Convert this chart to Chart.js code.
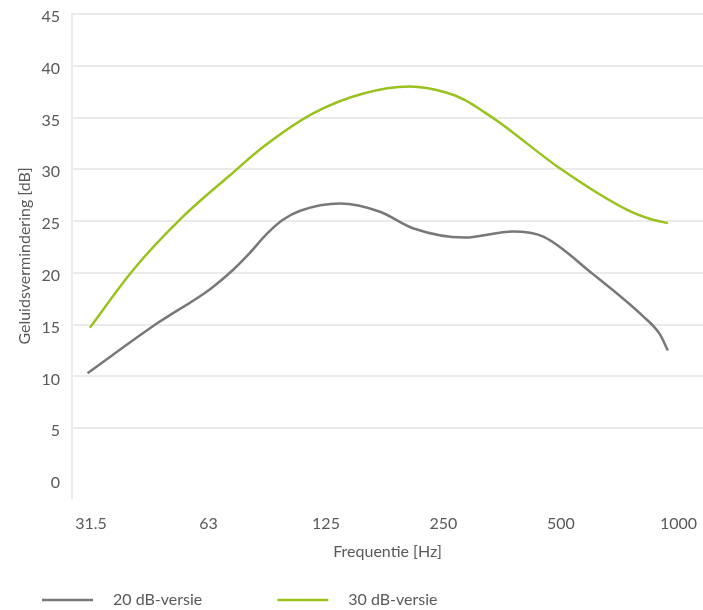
<!DOCTYPE html>
<html>
<head>
<meta charset="utf-8">
<script src="https://cdn.jsdelivr.net/npm/chart.js@4.4.1/dist/chart.umd.min.js"></script>
<style>
    body { margin: 0; background: #fff; }
    #wrap { width: 703px; height: 610px; }
</style>
</head>
<body>
<div id="wrap"><canvas id="chartGeluid"></canvas></div>
<script>
// frequentiebanden (tick labels op de x-as)
const frequenties = ['31.5', '63', '125', '250', '500', '1000'];
const yTicks = [0, 5, 10, 15, 20, 25, 30, 35, 40, 45];

// 20 dB-versie: positie in octaven vanaf 31.5 Hz, waarde in dB
const octaaf20 = [-0.03, 0.56, 1.01, 1.21, 1.35, 1.50, 1.63, 1.78, 2.12, 2.46, 2.74, 3.18, 3.59, 3.85, 4.27, 4.70, 4.84, 4.91];
const db20 = [10.3, 15.1, 18.4, 20.3, 21.9, 23.8, 25.1, 26.0, 26.7, 25.9, 24.3, 23.4, 24.0, 23.5, 19.9, 15.8, 14.1, 12.5];

// 30 dB-versie
const octaaf30 = [-0.01, 0.36, 0.78, 1.18, 1.47, 1.89, 2.31, 2.71, 3.03, 3.18, 3.35, 3.48, 3.99, 4.56, 4.76, 4.91];
const db30 = [14.7, 20.3, 25.4, 29.4, 32.2, 35.4, 37.3, 38.0, 37.4, 36.7, 35.5, 34.5, 30.1, 26.1, 25.2, 24.8];

const tekstKleur = '#58595b';
const gridKleur = '#ebebeb';

Chart.defaults.font.family = 'Lato, "Open Sans", sans-serif';
Chart.defaults.font.size = 16;
Chart.defaults.color = tekstKleur;

// lijntje voor de legenda (breder vak dan de lijn zelf)
function legendaLijn(kleur) {
    const c = document.createElement('canvas');
    c.width = 128;
    c.height = 4;
    const g = c.getContext('2d');
    g.strokeStyle = kleur;
    g.lineWidth = 2.5;
    g.beginPath();
    g.moveTo(65, 2);
    g.lineTo(116, 2);
    g.stroke();
    return c;
}

const punten = (xs, ys) => xs.map((x, i) => ({ x: x, y: ys[i] }));

// geen extra randruimte voor de tick labels
const geenPadding = scale => {
    scale.paddingLeft = 0;
    scale.paddingRight = 0;
    scale.paddingTop = 0;
    scale.paddingBottom = 0;
};

new Chart(document.getElementById('chartGeluid'), {
    type: 'line',
    data: {
        datasets: [
            {
                label: '20 dB-versie',
                data: punten(octaaf20, db20),
                borderColor: '#77787b',
                borderWidth: 2.5,
                pointRadius: 0,
                cubicInterpolationMode: 'monotone'
            },
            {
                label: '30 dB-versie',
                data: punten(octaaf30, db30),
                borderColor: '#99c21e',
                borderWidth: 2.5,
                pointRadius: 0,
                cubicInterpolationMode: 'monotone'
            }
        ]
    },
    options: {
        responsive: true,
        maintainAspectRatio: false,
        animation: false,
        layout: { padding: { left: -33, top: 14, right: 0, bottom: -8 } },
        plugins: {
            tooltip: { enabled: false },
            legend: {
                position: 'bottom',
                align: 'start',
                labels: {
                    usePointStyle: true,
                    pointStyleWidth: 128,
                    padding: 10,
                    generateLabels: chart => chart.data.datasets.map((ds, i) => ({
                        text: ds.label,
                        pointStyle: legendaLijn(ds.borderColor),
                        fillStyle: ds.borderColor,
                        strokeStyle: ds.borderColor,
                        lineWidth: 0,
                        fontColor: tekstKleur,
                        hidden: !chart.isDatasetVisible(i),
                        datasetIndex: i
                    }))
                }
            }
        },
        scales: {
            x: {
                type: 'linear',
                min: -0.162,
                max: 5.209,
                afterBuildTicks: scale => {
                    scale.ticks = frequenties.map((_, i) => ({ value: i }));
                },
                afterFit: geenPadding,
                ticks: {
                    padding: 16.4,
                    autoSkip: false,
                    maxRotation: 0,
                    callback: value => frequenties[value]
                },
                grid: { display: false, drawTicks: false },
                border: { display: false },
                title: {
                    display: true,
                    text: 'Frequentie [Hz]',
                    color: tekstKleur,
                    padding: { top: -7.6, bottom: 20.4 }
                }
            },
            y: {
                min: -1.75,
                max: 45,
                afterBuildTicks: scale => {
                    scale.ticks = yTicks.map(v => ({ value: v }));
                },
                afterFit: scale => {
                    geenPadding(scale);
                    scale.width = 105;
                },
                ticks: { padding: 12, labelOffset: 3 },
                grid: {
                    drawTicks: false,
                    lineWidth: 2,
                    color: ctx => (ctx.tick && ctx.tick.value === 0) ? 'rgba(0,0,0,0)' : gridKleur
                },
                border: { color: gridKleur, width: 2 },
                title: {
                    display: true,
                    text: 'Geluidsvermindering [dB]',
                    color: tekstKleur,
                    padding: { top: 48.4, bottom: 0 }
                }
            }
        }
    }
});
</script>
</body>
</html>
